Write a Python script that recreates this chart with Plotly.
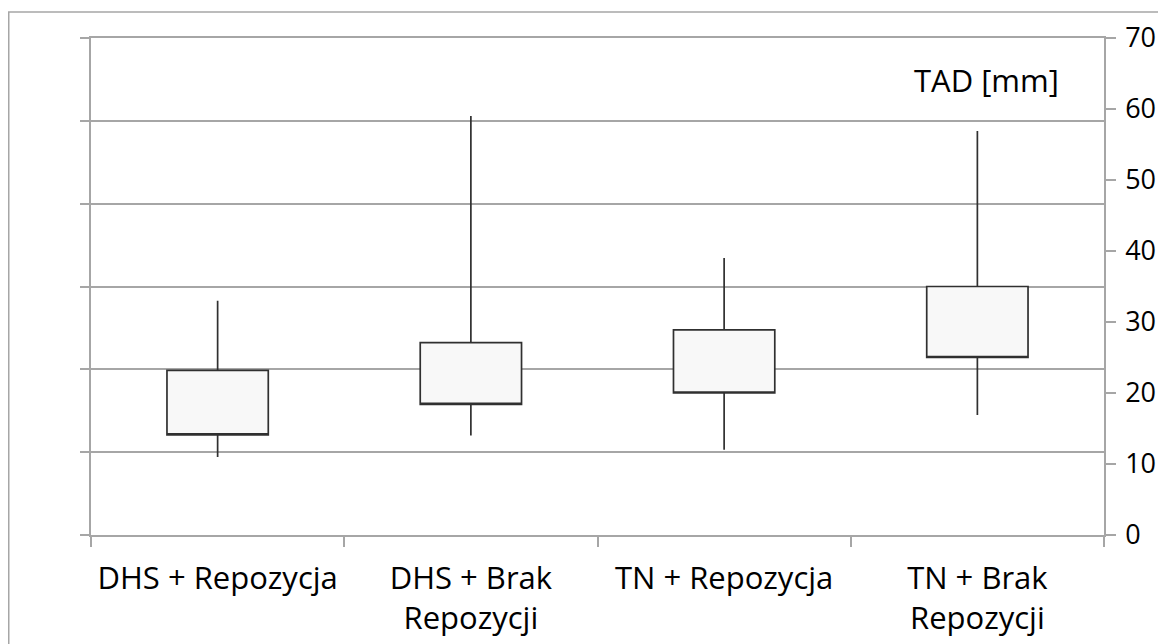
import plotly.graph_objects as go

categories = ["DHS + Repozycja", "DHS + Brak<br>Repozycji", "TN + Repozycja", "TN + Brak<br>Repozycji"]
whisker_low = [11.0, 14.0, 12.0, 16.9]
box_low = [14.1, 18.4, 20.0, 25.0]
box_high = [23.2, 27.1, 28.9, 35.0]
whisker_high = [33.0, 59.0, 39.0, 56.9]
right_ticks = [0, 10, 20, 30, 40, 50, 60, 70]
left_range = [0, 60]

FONT = "Open Sans"
GRID = "#a6a6a6"

W, H = 1166, 644
L, R, T, B = 83, 70, 30, 117
pw, ph = W - L - R, H - T - B

fig = go.Figure()
# invisible trace to activate the primary (gridline) axis
fig.add_trace(go.Scatter(
    x=[categories[0]], y=[left_range[0]], mode="markers",
    marker=dict(opacity=0), showlegend=False, hoverinfo="skip", yaxis="y",
))
fig.add_trace(go.Box(
    x=categories,
    lowerfence=whisker_low,
    q1=box_low,
    median=box_low,
    q3=box_high,
    upperfence=whisker_high,
    width=0.4,
    whiskerwidth=0,
    fillcolor="#f8f8f8",
    line=dict(color="#303030", width=1.7),
    yaxis="y2",
    showlegend=False,
    hoverinfo="skip",
))

fig.update_layout(
    width=W, height=H,
    margin=dict(l=L, r=R, t=T, b=B, autoexpand=False),
    paper_bgcolor="white", plot_bgcolor="white",
    font=dict(family=FONT, size=30, color="#000000"),
    xaxis=dict(
        type="category", tickson="boundaries", ticks="outside", ticklen=10,
        tickcolor=GRID, tickwidth=1.5, showline=True, mirror=True, linecolor=GRID, linewidth=1.5,
        showgrid=False, tickfont=dict(size=31), range=[-0.5, 3.5],
        automargin=False, ticklabelstandoff=15,
    ),
    yaxis=dict(
        range=left_range, dtick=10, showticklabels=False, ticks="outside", ticklen=9,
        tickcolor=GRID, tickwidth=1.5, showline=True, linecolor=GRID, linewidth=1.5,
        showgrid=True, gridcolor=GRID, gridwidth=1.5, zeroline=False, automargin=False,
    ),
    yaxis2=dict(
        range=[0, 70], tickvals=right_ticks, overlaying="y", side="right",
        ticks="outside", ticklen=10, tickcolor=GRID, tickwidth=1.5,
        showline=True, linecolor=GRID, linewidth=1.5, showgrid=False, zeroline=False,
        tickfont=dict(size=27), automargin=False, ticklabelstandoff=4,
    ),
    annotations=[dict(
        text="TAD [mm]", xref="paper", yref="paper",
        x=(1053 - L) / pw, y=(H - B - 72) / ph, xanchor="right", yanchor="middle",
        showarrow=False, font=dict(size=31, family=FONT),
    )],
    shapes=[dict(
        type="rect", xref="paper", yref="paper",
        x0=(0.75 - L) / pw, x1=(W + 20 - L) / pw,
        y0=(H - B - (H + 20)) / ph, y1=(H - B - 4) / ph,
        line=dict(color=GRID, width=1.5), fillcolor="rgba(0,0,0,0)", layer="below",
    )],
)

fig.write_html("out.html")
